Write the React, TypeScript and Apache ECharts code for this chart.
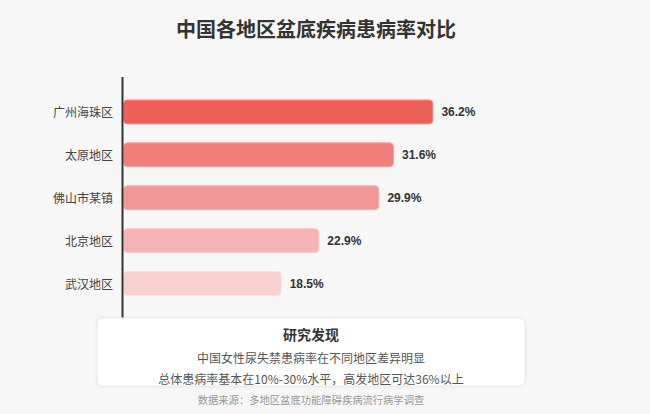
import React, { useEffect, useRef } from "react";
import * as echarts from "echarts";

const categories = ["广州海珠区", "太原地区", "佛山市某镇", "北京地区", "武汉地区"];
const values = [36.2, 31.6, 29.9, 22.9, 18.5];
const barColors = ["#ee5f5a", "#f07e7a", "#f29795", "#f5b4b3", "#f8d0d0"];
const borderColors = ["#f4908c", "#f5a3a0", "#f6b5b3", "#f8cbca", "#fbe0e0"];
const titleText = "中国各地区盆底疾病患病率对比";
const boxTitle = "研究发现";
const boxLines = ["中国女性尿失禁患病率在不同地区差异明显", "总体患病率基本在10%-30%水平，高发地区可达36%以上"];
const sourceText = "数据来源：多地区盆底功能障碍疾病流行病学调查";

const CJK = "'Noto Sans CJK SC', 'Noto Sans', sans-serif";

export default function App() {
  const ref = useRef<HTMLDivElement>(null);
  useEffect(() => {
    if (!ref.current) return;
    const chart = echarts.init(ref.current, undefined, { renderer: "svg" });
    const cx = 311;
    chart.setOption({
      animation: false,
      backgroundColor: "#f7f7f7",
      textStyle: { fontFamily: CJK },
      title: {
        text: titleText,
        left: cx,
        textAlign: "center",
        top: 13,
        textStyle: { fontSize: 20, fontWeight: "bold", color: "#333", fontFamily: CJK },
      },
      grid: { left: 123, top: 90.5, width: 343, height: 214.5, containLabel: false },
      xAxis: {
        type: "value",
        min: 0,
        max: 40,
        show: false,
      },
      yAxis: {
        type: "category",
        data: categories,
        inverse: true,
        axisLine: { show: false },
        axisTick: { show: false },
        axisLabel: { fontSize: 12, color: "#444", margin: 10, fontFamily: CJK },
      },
      series: [
        {
          type: "bar",
          barWidth: 25,
          data: values.map((v, i) => ({
            value: v,
            itemStyle: {
              color: barColors[i],
              borderColor: borderColors[i],
              borderWidth: 1,
              borderRadius: 4,
            },
          })),
          label: {
            show: true,
            position: "right",
            distance: 8,
            formatter: (p: any) => p.value + "%",
            fontSize: 12,
            fontWeight: "bold",
            color: "#333",
            fontFamily: "'Liberation Sans', Arial, sans-serif",
          },
        },
      ],
      graphic: [
        {
          type: "line",
          shape: { x1: 122.5, y1: 77, x2: 122.5, y2: 318 },
          style: { stroke: "#333", lineWidth: 2 },
          z: 10,
        },
        {
          type: "rect",
          shape: { x: 97, y: 318, width: 428, height: 68, r: 5 },
          style: {
            fill: "#ffffff",
            stroke: "#e8e8e8",
            lineWidth: 1,
            shadowBlur: 4,
            shadowColor: "rgba(0,0,0,0.06)",
          },
          z: 20,
        },
        {
          type: "text",
          x: cx,
          y: 334,
          style: {
            text: boxTitle,
            align: "center",
            verticalAlign: "middle",
            fontSize: 14,
            fontWeight: "bold",
            fill: "#333",
            fontFamily: CJK,
          },
          z: 21,
        },
        {
          type: "text",
          x: cx,
          y: 357,
          style: {
            text: boxLines[0],
            align: "center",
            verticalAlign: "middle",
            fontSize: 12,
            fill: "#555",
            fontFamily: CJK,
          },
          z: 21,
        },
        {
          type: "text",
          x: cx,
          y: 378.5,
          style: {
            text: boxLines[1],
            align: "center",
            verticalAlign: "middle",
            fontSize: 12,
            fill: "#555",
            fontFamily: CJK,
          },
          z: 21,
        },
        {
          type: "text",
          x: cx,
          y: 399,
          style: {
            text: sourceText,
            align: "center",
            verticalAlign: "middle",
            fontSize: 10.3,
            fill: "#999",
            fontFamily: CJK,
          },
          z: 21,
        },
      ],
    });
    return () => chart.dispose();
  }, []);
  return (
    <div
      ref={ref}
      style={{ position: "fixed", left: 0, top: 0, width: 650, height: 414, background: "#f7f7f7" }}
    />
  );
}
